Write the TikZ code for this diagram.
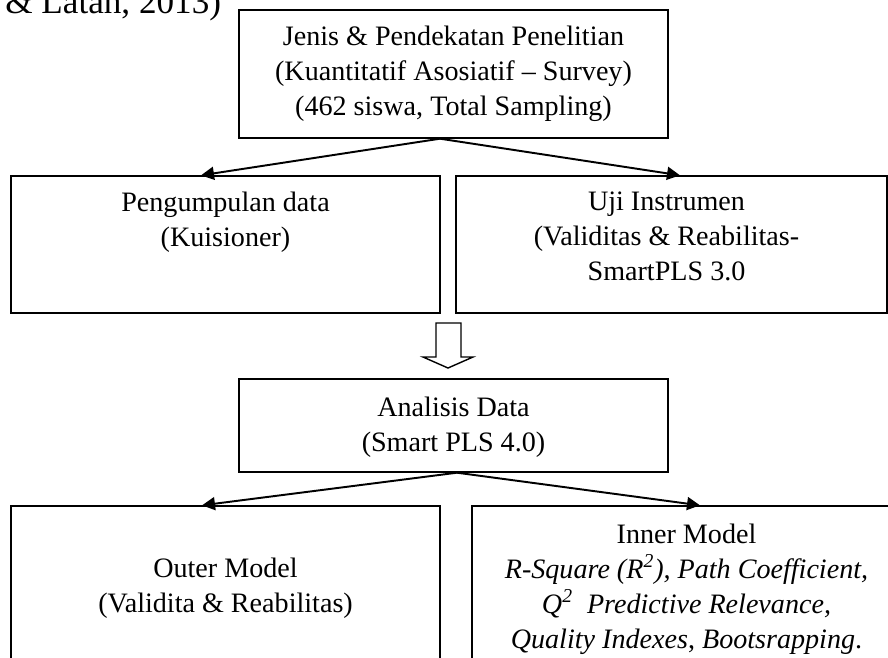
\documentclass[tikz,border=0pt]{standalone}
\usepackage{fontspec}
\setmainfont{Liberation Serif}
\usetikzlibrary{positioning,calc,arrows.meta}

\begin{document}
\begin{tikzpicture}[x=0.02cm,y=-0.02cm]
\tikzset{
    box/.style={draw, line width=0.8pt, inner sep=0pt, minimum width=8.58cm,
        align=center, font=\fontsize{16}{20}\selectfont},
    txt/.style={align=center, inner sep=0pt, font=\fontsize{16}{20}\selectfont},
    arrow/.style={line width=1.1pt, -{Triangle[length=0.26cm,width=0.26cm]}},
    hollow/.style={draw, line width=0.8pt, fill=white}}

\useasboundingbox (0,0) rectangle (888,657);
\clip (0,0) rectangle (888,657);

% sisa keterangan di atas
\node[anchor=base west, inner sep=0pt, font=\fontsize{20}{24}\selectfont] (sumber) at (5,13) {\& Latan, 2013)};

\node[box, minimum height=2.56cm] (jenis) at (453.5,74)
    {Jenis \& Pendekatan Penelitian\\(Kuantitatif Asosiatif -- Survey)\\(462 siswa, Total Sampling)};

\node[box, minimum height=2.74cm] (pengumpulan) at (225.5,244.5) {};
\node[txt, below=0.32cm of pengumpulan.north] (pengumpulanteks) {Pengumpulan data\\(Kuisioner)};

\node[box, minimum width=8.62cm, minimum height=2.74cm] (uji) at (671.5,244.5) {};
\node[txt, below=0.32cm of uji.north, xshift=-0.1cm] (ujiteks) {Uji Instrumen\\(Validitas \& Reabilitas-\\SmartPLS 3.0};

\draw[arrow] ($(jenis.south)+(-13.5,0)$) -- ($(pengumpulan.north)+(-24.5,0)$);
\draw[arrow] ($(jenis.south)+(-13.5,0)$) -- ($(uji.north)+(8.5,0)$);

% panah kosong ke bawah
\draw[hollow] (436,323) -- (461,323) -- (461,357) -- (473,357) -- (448,368)
    -- (423,357) -- (436,357) -- cycle;

\node[box, minimum height=1.86cm] (analisis) at (453.5,425.5) {};
\node[txt, below=0.36cm of analisis.north] (analisisteks) {Analisis Data\\(Smart PLS 4.0)};

\node[box, minimum height=3.88cm] (outer) at (225.5,603) {};
\node[txt, below=1.04cm of outer.north] (outerteks) {Outer Model\\(Validita \& Reabilitas)};

\node[box, minimum height=3.88cm] (inner) at (686.5,603) {};
\node[txt, below=0.36cm of inner.north] (innerteks) {Inner Model\\
    \textit{R-Square (R\textsuperscript{2}), Path Coefficient,}\\
    \textit{Q\textsuperscript{2}\ \ Predictive Relevance,}\\
    \textit{Quality Indexes}, \textit{Bootsrapping}.};

\draw[arrow] ($(analisis.south)+(3.5,0)$) -- ($(outer.north)+(-23.5,0)$);
\draw[arrow] ($(analisis.south)+(3.5,0)$) -- ($(inner.north)+(13.5,0)$);

\end{tikzpicture}
\end{document}
